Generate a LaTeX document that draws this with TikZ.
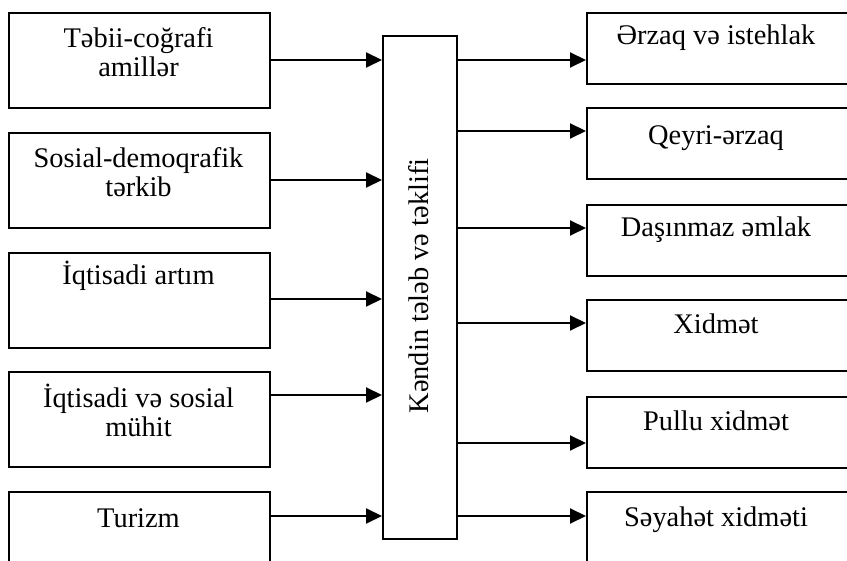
\documentclass[tikz,border=0pt]{standalone}
\usepackage{fontspec}
\setmainfont{Liberation Serif}
\usetikzlibrary{arrows.meta}
\begin{document}
\begin{tikzpicture}[x=0.5pt,y=-0.5pt,
  box/.style={draw,line width=1pt,inner sep=0pt,anchor=north west},
  lbox/.style={box,minimum width=130.5pt,minimum height=47.5pt},
  rbox/.style={box,minimum width=132pt,minimum height=35.75pt},
  lbl/.style={font=\fontsize{14.2}{14.8}\selectfont,align=center,inner sep=0pt,anchor=base},
  arr/.style={line width=1pt,-{Triangle[length=8pt,width=7.5pt]}}]
\clip (0,0) rectangle (847,561);
% left boxes
\node[lbox] (l1) at (8,12) {};
\node[lbox] (l2) at (8,132) {};
\node[lbox] (l3) at (8,252) {};
\node[lbox] (l4) at (8,371) {};
\node[lbox] (l5) at (8,491) {};
\node[lbl] (tl1) at (138.5,77) {Təbii-coğrafi\\amillər};
\node[lbl] (tl2) at (138.5,197) {Sosial-demoqrafik\\tərkib};
\node[lbl] (tl3) at (138.5,285) {İqtisadi artım};
\node[lbl] (tl4) at (138.5,437) {İqtisadi və sosial\\mühit};
\node[lbl] (tl5) at (138.5,527) {Turizm};
% centre box
\node[box,minimum width=37pt,minimum height=251.5pt] (c) at (382,35) {};
\node[lbl,anchor=center,rotate=90] (tc) at (419,286) {Kəndin tələb və təklifi};
% right boxes
\node[rbox] (r1) at (586,12) {};
\node[rbox] (r2) at (586,107) {};
\node[rbox] (r3) at (586,204) {};
\node[rbox] (r4) at (586,299) {};
\node[rbox] (r5) at (586,396) {};
\node[rbox] (r6) at (586,491) {};
\node[lbl] (tr1) at (716,45) {Ərzaq və istehlak};
\node[lbl] (tr2) at (716,145) {Qeyri-ərzaq};
\node[lbl] (tr3) at (716,237) {Daşınmaz əmlak};
\node[lbl] (tr4) at (716,334) {Xidmət};
\node[lbl] (tr5) at (716,430) {Pullu xidmət};
\node[lbl] (tr6) at (716,526) {Səyahət xidməti};
% left arrows
\draw[arr] (l1.east |- 0,60) -- (c.west |- 0,60);
\draw[arr] (l2.east |- 0,180) -- (c.west |- 0,180);
\draw[arr] (l3.east |- 0,299) -- (c.west |- 0,299);
\draw[arr] (l4.east |- 0,395) -- (c.west |- 0,395);
\draw[arr] (l5.east |- 0,516) -- (c.west |- 0,516);
% right arrows
\draw[arr] (c.east |- 0,60) -- (r1.west |- 0,60);
\draw[arr] (c.east |- 0,131) -- (r2.west |- 0,131);
\draw[arr] (c.east |- 0,228) -- (r3.west |- 0,228);
\draw[arr] (c.east |- 0,323) -- (r4.west |- 0,323);
\draw[arr] (c.east |- 0,443) -- (r5.west |- 0,443);
\draw[arr] (c.east |- 0,516) -- (r6.west |- 0,516);
\end{tikzpicture}
\end{document}
